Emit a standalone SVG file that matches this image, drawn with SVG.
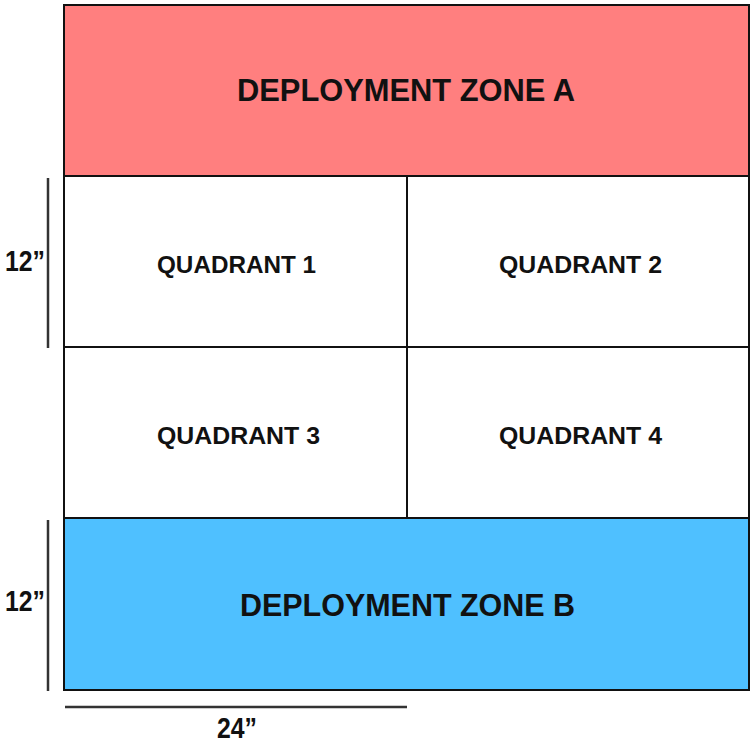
<svg xmlns="http://www.w3.org/2000/svg" width="751" height="745" viewBox="0 0 751 745">
<style>
.b{stroke:#111;stroke-width:2;}
.t{font-family:"Liberation Sans",Arial,sans-serif;font-weight:bold;fill:#111;}
.z{font-size:32px;}
.q{font-size:23px;}
.d{font-size:29px;}
.dim{stroke:#333;stroke-width:2.5;}
</style>
<rect width="751" height="745" fill="#fff"/>
<g id="zoneA">
<rect class="b" x="64" y="5" width="685" height="171" fill="#FF7F7F"/>
<text class="t z" x="237" y="101" textLength="338" lengthAdjust="spacingAndGlyphs">DEPLOYMENT ZONE A</text>
</g>
<g id="quadrant1">
<rect class="b" x="64" y="176" width="343" height="171" fill="#fff"/>
<text class="t q" x="157" y="273" textLength="159" lengthAdjust="spacingAndGlyphs">QUADRANT 1</text>
</g>
<g id="quadrant2">
<rect class="b" x="407" y="176" width="342" height="171" fill="#fff"/>
<text class="t q" x="499" y="273" textLength="163" lengthAdjust="spacingAndGlyphs">QUADRANT 2</text>
</g>
<g id="quadrant3">
<rect class="b" x="64" y="347" width="343" height="171" fill="#fff"/>
<text class="t q" x="157" y="444" textLength="163" lengthAdjust="spacingAndGlyphs">QUADRANT 3</text>
</g>
<g id="quadrant4">
<rect class="b" x="407" y="347" width="342" height="171" fill="#fff"/>
<text class="t q" x="499" y="444" textLength="163" lengthAdjust="spacingAndGlyphs">QUADRANT 4</text>
</g>
<g id="zoneB">
<rect class="b" x="64" y="518" width="685" height="172" fill="#4FC0FF"/>
<text class="t z" x="240" y="616" textLength="335" lengthAdjust="spacingAndGlyphs">DEPLOYMENT ZONE B</text>
</g>
<g id="dimensions">
<line class="dim" x1="48" y1="178" x2="48" y2="348"/>
<line class="dim" x1="48" y1="520" x2="48" y2="691"/>
<line class="dim" x1="65" y1="707" x2="407" y2="707"/>
<text class="t d" x="5" y="271" textLength="40" lengthAdjust="spacingAndGlyphs">12”</text>
<text class="t d" x="5" y="611" textLength="40" lengthAdjust="spacingAndGlyphs">12”</text>
<text class="t d" x="217" y="738" textLength="40" lengthAdjust="spacingAndGlyphs">24”</text>
</g>
</svg>
